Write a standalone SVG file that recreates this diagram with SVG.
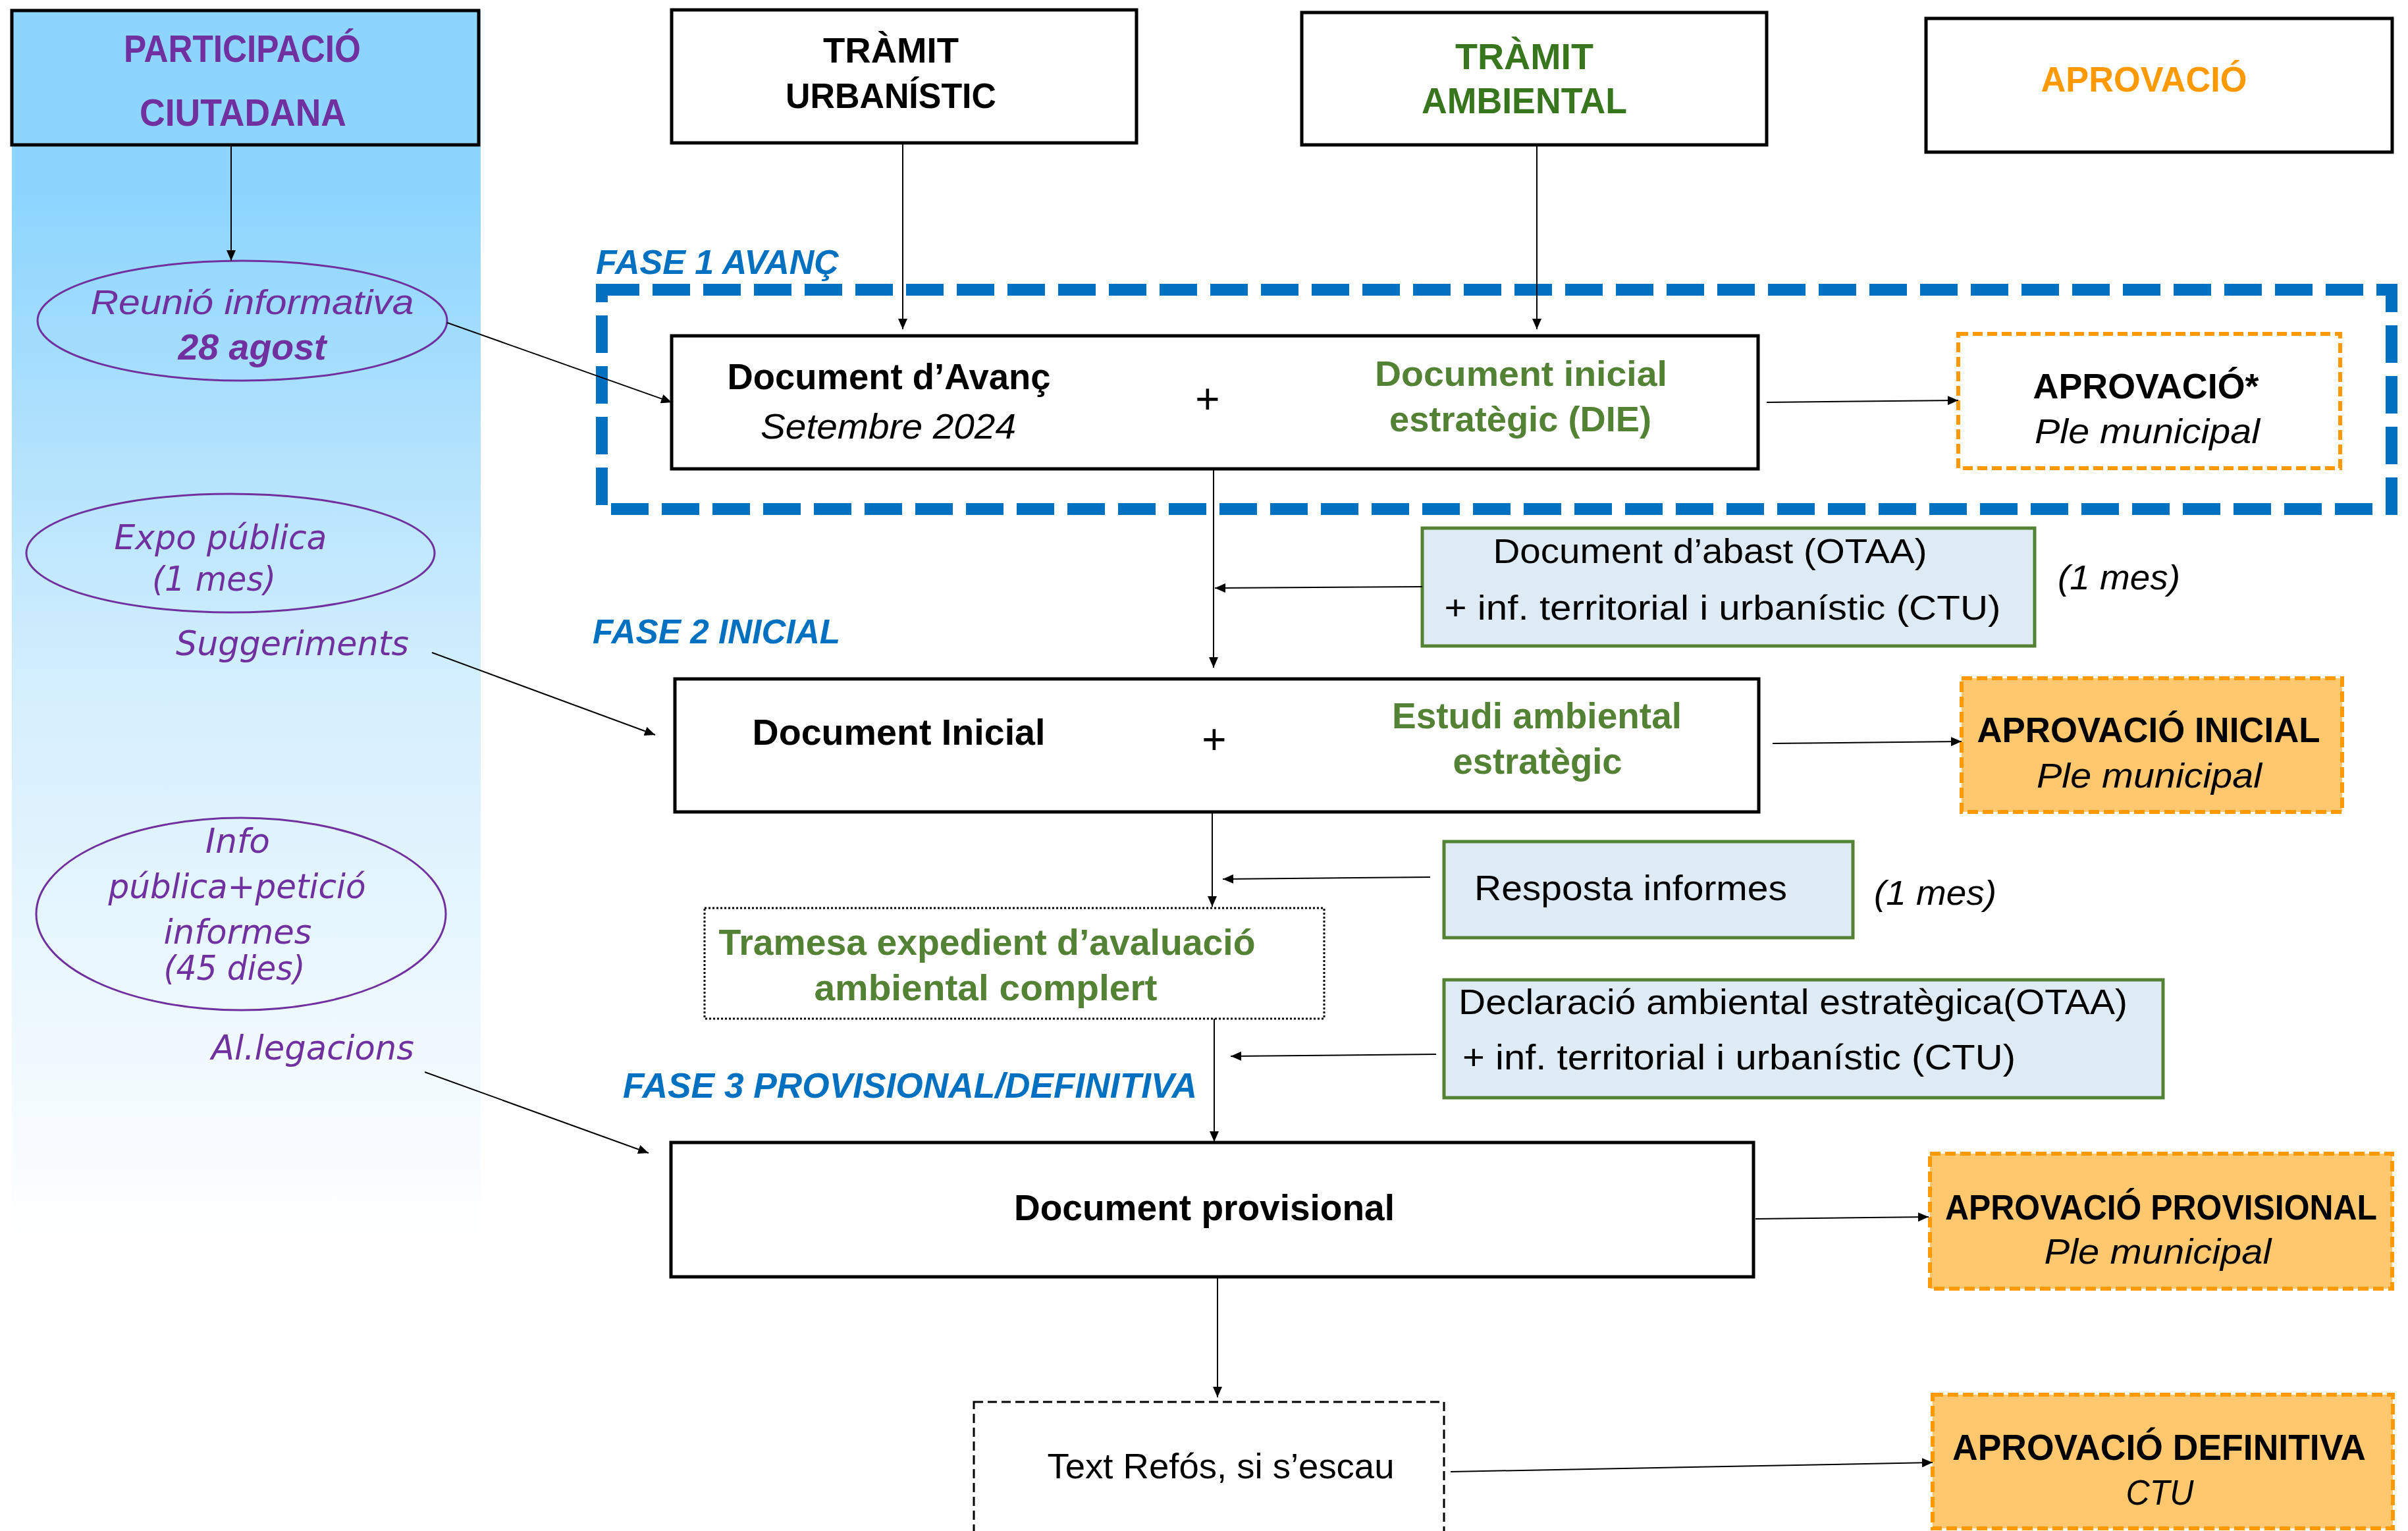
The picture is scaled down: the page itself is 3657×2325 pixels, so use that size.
<svg xmlns="http://www.w3.org/2000/svg" width="3657" height="2325" viewBox="0 0 3657 2325">
<style>
text{font-family:"Liberation Sans",Arial,sans-serif;}
.dv{font-family:"DejaVu Sans","Liberation Sans",sans-serif;}
.b{font-weight:bold}
.i{font-style:italic}
.c{text-anchor:middle}
.k{fill:#000}
.purple{fill:#7030A0}
.green{fill:#548235}
.dgreen{fill:#38761D}
.blue{fill:#0070C0}
.orange{fill:#FF9900}
.box{fill:#fff;stroke:#000;stroke-width:5}
.ell{fill:none;stroke:#7030A0;stroke-width:3}
.info{fill:#DEEAF4;stroke:#548235;stroke-width:5}
.appr{fill:#FFC76E;stroke:#FF9900;stroke-width:6;stroke-dasharray:16 7}
.appr0{fill:#fff;stroke:#FF9900;stroke-width:6;stroke-dasharray:15 7}
.conn line{stroke:#000;stroke-width:2;marker-end:url(#arr)}
</style>
<defs>
<linearGradient id="panelGrad" x1="0" y1="0" x2="0" y2="1">
<stop offset="0" stop-color="#8DD5FD"/>
<stop offset="0.15" stop-color="#8DD5FD"/>
<stop offset="0.55" stop-color="#D4EFFD"/>
<stop offset="1" stop-color="#FFFFFF"/>
</linearGradient>
<marker id="arr" markerUnits="userSpaceOnUse" markerWidth="16" markerHeight="14" refX="16" refY="7" orient="auto">
<path d="M0,0 L16,7 L0,14 z" fill="#000"/>
</marker>
</defs>
<rect width="3657" height="2325" fill="#fff"/>

<g id="panel">
<rect x="18" y="16" width="712" height="1875" fill="url(#panelGrad)"/>
</g>

<g id="fase1-frame">
<rect x="914" y="440" width="2718" height="333" fill="none" stroke="#0070C0" stroke-width="18" stroke-dasharray="57 20"/>
</g>

<g id="participacio">
<rect x="18" y="16" width="709" height="204" fill="#8DD5FD" stroke="#000" stroke-width="5"/>
<text class="b purple c" x="368" y="94" font-size="57" textLength="360" lengthAdjust="spacingAndGlyphs">PARTICIPACIÓ</text>
<text class="b purple c" x="369" y="191" font-size="57" textLength="314" lengthAdjust="spacingAndGlyphs">CIUTADANA</text>
</g>

<g id="tramit-urbanistic">
<rect class="box" x="1020" y="15" width="706" height="202"/>
<text class="b k c" x="1353" y="95" font-size="54" textLength="206" lengthAdjust="spacingAndGlyphs">TRÀMIT</text>
<text class="b k c" x="1353" y="164" font-size="54" textLength="320" lengthAdjust="spacingAndGlyphs">URBANÍSTIC</text>
</g>

<g id="tramit-ambiental">
<rect class="box" x="1977" y="19" width="706" height="201"/>
<text class="b dgreen c" x="2315" y="105" font-size="55" textLength="210" lengthAdjust="spacingAndGlyphs">TRÀMIT</text>
<text class="b dgreen c" x="2315" y="172" font-size="55" textLength="312" lengthAdjust="spacingAndGlyphs">AMBIENTAL</text>
</g>

<g id="aprovacio-header">
<rect class="box" x="2925" y="28" width="708" height="203"/>
<text class="b orange c" x="3256" y="139" font-size="54" textLength="313" lengthAdjust="spacingAndGlyphs">APROVACIÓ</text>
</g>

<g id="reunio">
<ellipse class="ell" cx="368" cy="487" rx="311" ry="91"/>
<text class="i purple c" x="383" y="477" font-size="51" textLength="491" lengthAdjust="spacingAndGlyphs">Reunió informativa</text>
<text class="b i purple c" x="383" y="546" font-size="55" textLength="225" lengthAdjust="spacingAndGlyphs">28 agost</text>
</g>

<g id="expo">
<ellipse class="ell" cx="350" cy="840" rx="310" ry="90"/>
<text class="dv i purple c" x="335" y="834" font-size="52" textLength="323" lengthAdjust="spacingAndGlyphs">Expo pública</text>
<text class="dv i purple c" x="325" y="897" font-size="52" textLength="188" lengthAdjust="spacingAndGlyphs">(1 mes)</text>
</g>
<g id="suggeriments">
<text class="dv i purple c" x="444" y="995" font-size="52" textLength="354" lengthAdjust="spacingAndGlyphs">Suggeriments</text>
</g>

<g id="info">
<ellipse class="ell" cx="366" cy="1388" rx="311" ry="146"/>
<text class="dv i purple c" x="361" y="1295" font-size="52" textLength="98" lengthAdjust="spacingAndGlyphs">Info</text>
<text class="dv i purple c" x="360" y="1364" font-size="52" textLength="391" lengthAdjust="spacingAndGlyphs">pública+petició</text>
<text class="dv i purple c" x="361" y="1433" font-size="52" textLength="225" lengthAdjust="spacingAndGlyphs">informes</text>
<text class="dv i purple c" x="356" y="1488" font-size="52" textLength="215" lengthAdjust="spacingAndGlyphs">(45 dies)</text>
</g>
<g id="allegacions">
<text class="dv i purple c" x="475" y="1609" font-size="51" textLength="308" lengthAdjust="spacingAndGlyphs">Al.legacions</text>
</g>

<g id="fase1-label">
<text class="b i blue" x="905" y="416" font-size="51" textLength="369" lengthAdjust="spacingAndGlyphs">FASE 1 AVANÇ</text>
</g>

<g id="doc-avanc">
<rect class="box" x="1020" y="510" width="1650" height="202"/>
<text class="b k c" x="1350" y="591" font-size="55" textLength="491" lengthAdjust="spacingAndGlyphs">Document d’Avanç</text>
<text class="i k c" x="1349" y="666" font-size="53" textLength="388" lengthAdjust="spacingAndGlyphs">Setembre 2024</text>
<text class="i k c" x="1833" y="628" font-size="64">+</text>
<text class="b green c" x="2310" y="586" font-size="53" textLength="444" lengthAdjust="spacingAndGlyphs">Document inicial</text>
<text class="b green c" x="2309" y="655" font-size="53" textLength="398" lengthAdjust="spacingAndGlyphs">estratègic (DIE)</text>
</g>

<g id="aprovacio-avanc">
<rect class="appr0" x="2974" y="507" width="580" height="204"/>
<text class="b k c" x="3259" y="605" font-size="54" textLength="343" lengthAdjust="spacingAndGlyphs">APROVACIÓ*</text>
<text class="i k c" x="3261" y="673" font-size="51" textLength="342" lengthAdjust="spacingAndGlyphs">Ple municipal</text>
</g>

<g id="doc-abast">
<rect class="info" x="2160" y="802" width="930" height="179"/>
<text class="k c" x="2597" y="855" font-size="51" textLength="659" lengthAdjust="spacingAndGlyphs">Document d’abast (OTAA)</text>
<text class="k c" x="2616" y="941" font-size="51" textLength="845" lengthAdjust="spacingAndGlyphs">+ inf. territorial i urbanístic (CTU)</text>
</g>
<g id="mes1">
<text class="i k c" x="3218" y="895" font-size="51" textLength="186" lengthAdjust="spacingAndGlyphs">(1 mes)</text>
</g>

<g id="fase2-label">
<text class="b i blue" x="900" y="977" font-size="52" textLength="376" lengthAdjust="spacingAndGlyphs">FASE 2 INICIAL</text>
</g>

<g id="doc-inicial">
<rect class="box" x="1025" y="1031" width="1646" height="202"/>
<text class="b k c" x="1365" y="1131" font-size="55" textLength="445" lengthAdjust="spacingAndGlyphs">Document Inicial</text>
<text class="i k c" x="1843" y="1145" font-size="64">+</text>
<text class="b green c" x="2334" y="1106" font-size="55" textLength="440" lengthAdjust="spacingAndGlyphs">Estudi ambiental</text>
<text class="b green c" x="2335" y="1175" font-size="55" textLength="257" lengthAdjust="spacingAndGlyphs">estratègic</text>
</g>

<g id="aprovacio-inicial">
<rect class="appr" x="2979" y="1030" width="578" height="203"/>
<text class="b k c" x="3263" y="1127" font-size="53" textLength="521" lengthAdjust="spacingAndGlyphs">APROVACIÓ INICIAL</text>
<text class="i k c" x="3264" y="1196" font-size="51" textLength="342" lengthAdjust="spacingAndGlyphs">Ple municipal</text>
</g>

<g id="resposta">
<rect class="info" x="2193" y="1278" width="621" height="146"/>
<text class="k" x="2239" y="1367" font-size="53" textLength="475" lengthAdjust="spacingAndGlyphs">Resposta informes</text>
</g>
<g id="mes2">
<text class="i k c" x="2939" y="1374" font-size="51" textLength="186" lengthAdjust="spacingAndGlyphs">(1 mes)</text>
</g>

<g id="tramesa">
<rect x="1070" y="1379" width="941" height="168" fill="#fff" stroke="#000" stroke-width="3" stroke-dasharray="3 3"/>
<text class="b green c" x="1499" y="1450" font-size="55" textLength="815" lengthAdjust="spacingAndGlyphs">Tramesa expedient d’avaluació</text>
<text class="b green c" x="1497" y="1519" font-size="55" textLength="521" lengthAdjust="spacingAndGlyphs">ambiental complert</text>
</g>

<g id="declaracio">
<rect class="info" x="2193" y="1488" width="1092" height="179"/>
<text class="k" x="2215" y="1540" font-size="53" textLength="1016" lengthAdjust="spacingAndGlyphs">Declaració ambiental estratègica(OTAA)</text>
<text class="k" x="2221" y="1624" font-size="53" textLength="840" lengthAdjust="spacingAndGlyphs">+ inf. territorial i urbanístic (CTU)</text>
</g>

<g id="fase3-label">
<text class="b i blue" x="946" y="1667" font-size="53" textLength="872" lengthAdjust="spacingAndGlyphs">FASE 3 PROVISIONAL/DEFINITIVA</text>
</g>

<g id="doc-provisional">
<rect class="box" x="1019" y="1735" width="1644" height="204"/>
<text class="b k c" x="1829" y="1853" font-size="55" textLength="578" lengthAdjust="spacingAndGlyphs">Document provisional</text>
</g>

<g id="aprovacio-provisional">
<rect class="appr" x="2931" y="1752" width="702" height="205"/>
<text class="b k c" x="3282" y="1852" font-size="54" textLength="656" lengthAdjust="spacingAndGlyphs">APROVACIÓ PROVISIONAL</text>
<text class="i k c" x="3277" y="1919" font-size="53" textLength="345" lengthAdjust="spacingAndGlyphs">Ple municipal</text>
</g>

<g id="text-refos">
<rect x="1479" y="2129" width="714" height="205" fill="#fff" stroke="#000" stroke-width="3" stroke-dasharray="14 7"/>
<text class="k c" x="1854" y="2245" font-size="53" textLength="527" lengthAdjust="spacingAndGlyphs">Text Refós, si s’escau</text>
</g>

<g id="aprovacio-definitiva">
<rect class="appr" x="2935" y="2118" width="699" height="203"/>
<text class="b k c" x="3279" y="2217" font-size="56" textLength="628" lengthAdjust="spacingAndGlyphs">APROVACIÓ DEFINITIVA</text>
<text class="i k c" x="3280" y="2285" font-size="54" textLength="103" lengthAdjust="spacingAndGlyphs">CTU</text>
</g>

<g id="connectors" class="conn">
<line x1="351" y1="220" x2="351" y2="396"/>
<line x1="679" y1="490" x2="1020" y2="611"/>
<line x1="656" y1="991" x2="995" y2="1116"/>
<line x1="645" y1="1628" x2="985" y2="1751"/>
<line x1="1371" y1="217" x2="1371" y2="500"/>
<line x1="2334" y1="221" x2="2334" y2="500"/>
<line x1="1843" y1="712" x2="1843" y2="1014"/>
<line x1="2160" y1="891" x2="1845" y2="893"/>
<line x1="1841" y1="1233" x2="1841" y2="1377"/>
<line x1="2172" y1="1332" x2="1857" y2="1335"/>
<line x1="1844" y1="1547" x2="1844" y2="1734"/>
<line x1="2181" y1="1601" x2="1869" y2="1604"/>
<line x1="1849" y1="1939" x2="1849" y2="2122"/>
<line x1="2683" y1="611" x2="2974" y2="608"/>
<line x1="2692" y1="1129" x2="2979" y2="1126"/>
<line x1="2666" y1="1851" x2="2929" y2="1848"/>
<line x1="2203" y1="2235" x2="2935" y2="2221"/>
</g>
</svg>
